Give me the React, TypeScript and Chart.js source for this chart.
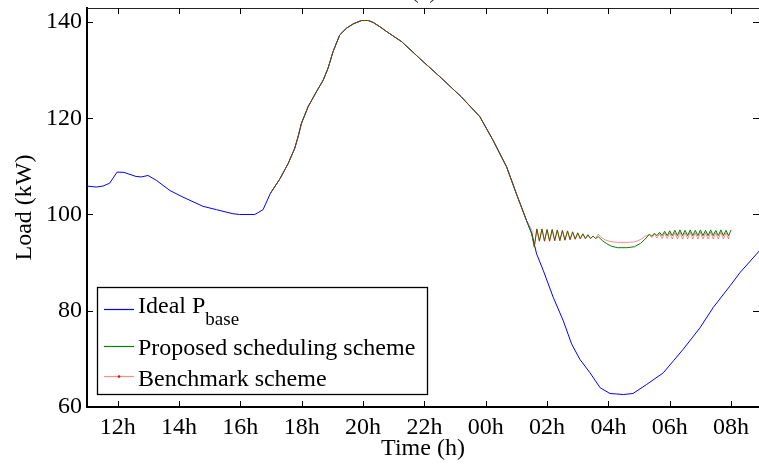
import React, { useEffect, useRef } from "react";
import { Chart, registerables } from "chart.js";

Chart.register(...registerables);

// ---- Data (hours since midnight of day 1; 24 = 00h next day) ----
const idealTime = [
  11.0, 11.3, 11.52, 11.74, 11.98, 12.2, 12.6, 12.77, 12.99, 13.26, 13.7, 14.13, 14.78, 15.22,
  15.76, 15.98, 16.47, 16.74, 16.98, 17.29, 17.56, 17.77, 17.88, 17.99, 18.21, 18.48, 18.7,
  18.86, 19.02, 19.24, 19.46, 19.68, 19.95, 20.17, 20.33, 20.55, 20.77, 21.26, 21.85, 22.56,
  23.21, 23.81, 24.24, 24.68, 25.0, 25.33, 25.5, 25.66, 25.88, 26.2, 26.53, 26.8, 27.07, 27.4,
  27.73, 28.05, 28.49, 28.8, 29.25, 29.79, 30.12, 30.44, 30.99, 31.42, 31.97, 32.3, 33.0,
];
const idealLoad = [
  105.9, 105.7, 105.9, 106.5, 108.8, 108.75, 107.9, 107.8, 108.1, 107.1, 105.0, 103.6, 101.7,
  101.0, 100.15, 100.0, 100.0, 101.0, 104.4, 107.4, 110.6, 113.7, 116.1, 118.9, 122.4, 125.5,
  127.9, 130.4, 133.8, 137.3, 138.7, 139.6, 140.3, 140.3, 139.9, 139.0, 138.0, 135.9, 132.4,
  128.3, 124.4, 120.3, 115.4, 109.9, 104.3, 98.75, 96.0, 91.8, 88.3, 82.8, 77.9, 73.1, 69.9,
  67.1, 64.0, 62.8, 62.6, 62.8, 64.7, 67.1, 69.6, 72.0, 76.5, 80.7, 85.2, 88.0, 93.0,
];

// Shared part of both schemes (they follow the ideal curve from ~17h to ~01h20)
const schemeStart = 16.9;
const schemeFollowEnd = 25.4;

const proposedTime = [
  25.5, 25.583, 25.667, 25.75, 25.833, 25.917, 26.0, 26.083, 26.167, 26.25, 26.333, 26.417,
  26.5, 26.583, 26.667, 26.75, 26.833, 26.917, 27.0, 27.083, 27.167, 27.25, 27.333, 27.417,
  27.5, 27.583, 27.667, 27.8, 27.95, 28.1, 28.3, 28.6, 28.85, 29.05, 29.2,
  29.333, 29.417, 29.5, 29.583, 29.667, 29.75, 29.833, 29.917, 30.0, 30.083, 30.167, 30.25,
  30.333, 30.417, 30.5, 30.583, 30.667, 30.75, 30.833, 30.917, 31.0, 31.083, 31.167, 31.25,
  31.333, 31.417, 31.5, 31.583, 31.667, 31.75, 31.833, 31.917, 32.0,
];
const proposedLoad = [
  96.0, 93.2, 97.0, 94.5, 97.0, 94.5, 96.9, 94.5, 96.9, 94.6, 96.8, 94.6,
  96.7, 94.7, 96.6, 94.8, 96.4, 94.9, 96.2, 95.0, 96.0, 95.0, 95.8, 95.0,
  95.5, 95.0, 95.4, 94.6, 93.9, 93.4, 93.1, 93.1, 93.3, 94.0, 94.9,
  95.9, 95.5, 96.1, 95.6, 96.3, 95.6, 96.5, 95.6, 96.6, 95.6, 96.7, 95.6,
  96.8, 95.6, 96.7, 95.6, 96.8, 95.6, 96.7, 95.6, 96.8, 95.6, 96.7, 95.6,
  96.8, 95.6, 96.7, 95.6, 96.8, 95.6, 96.7, 95.6, 96.8,
];

const benchmarkTime = [
  25.5, 25.583, 25.667, 25.75, 25.833, 25.917, 26.0, 26.083, 26.167, 26.25, 26.333, 26.417,
  26.5, 26.583, 26.667, 26.75, 26.833, 26.917, 27.0, 27.083, 27.167, 27.25, 27.333, 27.417,
  27.5, 27.583, 27.667, 27.75, 27.9, 28.05, 28.3, 28.6, 28.85, 29.05, 29.2,
  29.333, 29.417, 29.5, 29.583, 29.667, 29.75, 29.833, 29.917, 30.0, 30.083, 30.167, 30.25,
  30.333, 30.417, 30.5, 30.583, 30.667, 30.75, 30.833, 30.917, 31.0, 31.083, 31.167, 31.25,
  31.333, 31.417, 31.5, 31.583, 31.667, 31.75, 31.833, 31.917, 31.95,
];
const benchmarkLoad = [
  96.8, 93.5, 96.9, 94.4, 96.9, 94.4, 96.8, 94.4, 96.8, 94.5, 96.7, 94.5,
  96.6, 94.6, 96.5, 94.7, 96.3, 94.8, 96.1, 94.9, 95.9, 94.9, 95.7, 95.0,
  95.5, 95.0, 95.9, 95.3, 94.7, 94.4, 94.2, 94.2, 94.3, 94.8, 95.5,
  95.8, 95.2, 95.9, 95.1, 96.0, 95.0, 96.1, 95.0, 96.2, 94.9, 96.2, 94.9,
  96.3, 94.9, 96.2, 94.9, 96.3, 94.9, 96.2, 94.9, 96.3, 94.9, 96.2, 94.9,
  96.3, 94.9, 96.2, 94.9, 96.3, 94.9, 96.2, 94.9, 96.1,
];

const xTickValues = [12, 14, 16, 18, 20, 22, 24, 26, 28, 30, 32];
const xTickLabels = ["12h", "14h", "16h", "18h", "20h", "22h", "00h", "02h", "04h", "06h", "08h"];
const yTickValues = [60, 80, 100, 120, 140];

const legendLabels = ["Ideal P", "Proposed scheduling scheme", "Benchmark scheme"];
const legendSub = "base";

const FONT = '"Liberation Serif", "Times New Roman", serif';
const BLUE = "#0000ff";
const GREEN = "#008000";
const RED = "rgba(255,0,0,0.45)";

function pts(t: number[], v: number[]) {
  return t.map((x, i) => ({ x, y: v[i] }));
}

const commonPart = idealTime
  .map((x, i) => ({ x, y: idealLoad[i] }))
  .filter((p) => p.x >= schemeStart && p.x <= schemeFollowEnd);

const decorPlugin = {
  id: "decor",
  afterDraw(chart: any) {
    const { ctx, chartArea, scales } = chart;
    const { left, right, top, bottom } = chartArea;
    ctx.save();
    // top border
    ctx.strokeStyle = "#222";
    ctx.lineWidth = 1.2;
    ctx.beginPath();
    ctx.moveTo(left, top + 0.5);
    ctx.lineTo(right, top + 0.5);
    ctx.stroke();
    // inward ticks
    ctx.lineWidth = 1;
    ctx.strokeStyle = "#000";
    const tl = 6;
    scales.x.ticks.forEach((t: any) => {
      const px = Math.round(scales.x.getPixelForValue(t.value)) + 0.5;
      ctx.beginPath();
      ctx.moveTo(px, bottom);
      ctx.lineTo(px, bottom - tl);
      ctx.moveTo(px, top);
      ctx.lineTo(px, top + tl);
      ctx.stroke();
    });
    scales.y.ticks.forEach((t: any) => {
      const py = Math.round(scales.y.getPixelForValue(t.value)) + 0.5;
      ctx.beginPath();
      ctx.moveTo(left, py);
      ctx.lineTo(left + tl, py);
      ctx.moveTo(right, py);
      ctx.lineTo(right - tl, py);
      ctx.stroke();
    });

    // Legend
    const bx = left + 10;
    const by = 287;
    const bw = 330;
    const bh = 107;
    ctx.fillStyle = "#fff";
    ctx.fillRect(bx, by, bw, bh);
    ctx.strokeStyle = "#000";
    ctx.lineWidth = 1.3;
    ctx.strokeRect(bx + 0.5, by + 0.5, bw, bh);

    const lx0 = bx + 7;
    const lx1 = bx + 37;
    const tx = bx + 41;
    const rows = [
      { y: 309.5, base: 313, color: BLUE },
      { y: 346.5, base: 355, color: GREEN },
      { y: 376.5, base: 385.5, color: RED },
    ];
    rows.forEach((r, i) => {
      ctx.strokeStyle = r.color;
      ctx.lineWidth = 1.2;
      ctx.beginPath();
      ctx.moveTo(lx0, r.y);
      ctx.lineTo(lx1, r.y);
      ctx.stroke();
      ctx.fillStyle = "#000";
      ctx.font = `24px ${FONT}`;
      ctx.textBaseline = "alphabetic";
      ctx.textAlign = "left";
      ctx.fillText(legendLabels[i], tx, r.base);
      if (i === 0) {
        const w = ctx.measureText(legendLabels[i]).width;
        ctx.font = `19px ${FONT}`;
        ctx.fillText(legendSub, tx + w, r.base + 12);
      }
    });
    // red marker dot
    ctx.fillStyle = "#ff0000";
    ctx.beginPath();
    ctx.arc((lx0 + lx1) / 2, rows[2].y, 1.3, 0, Math.PI * 2);
    ctx.fill();

    // cut-off title
    ctx.fillStyle = "#333";
    ctx.font = `24px ${FONT}`;
    ctx.textAlign = "center";
    ctx.textBaseline = "alphabetic";
    ctx.fillText("(a)", (left + right) / 2 + 1, -2);
    ctx.restore();
  },
};

export default function App() {
  const ref = useRef<HTMLCanvasElement | null>(null);
  useEffect(() => {
    if (!ref.current) return;
    const font = { family: FONT, size: 24 };
    const chart = new Chart(ref.current, {
      type: "line",
      data: {
        datasets: [
          {
            label: "Ideal Pbase",
            data: pts(idealTime, idealLoad),
            borderColor: BLUE,
            borderWidth: 1,
            pointRadius: 0,
            order: 2,
          },
          {
            label: "Proposed scheduling scheme",
            data: [...commonPart, ...pts(proposedTime, proposedLoad)],
            borderColor: GREEN,
            borderWidth: 1,
            pointRadius: 0,
            order: 1,
          },
          {
            label: "Benchmark scheme",
            data: [...commonPart, ...pts(benchmarkTime, benchmarkLoad)],
            borderColor: RED,
            borderWidth: 1,
            pointRadius: 0,
            order: 0,
          },
        ],
      },
      options: {
        responsive: false,
        animation: false,
        layout: { padding: { top: 8, right: 0, left: 0, bottom: 0 } },
        plugins: {
          legend: { display: false },
          tooltip: { enabled: false },
          title: { display: false },
        },
        scales: {
          x: {
            type: "linear",
            min: 11,
            max: 32.91,
            afterBuildTicks: (s: any) => {
              s.ticks = xTickValues.map((v) => ({ value: v }));
            },
            afterFit: (s: any) => {
              s.height = 59;
              s.paddingLeft = 0;
              s.paddingRight = 0;
            },
            ticks: {
              callback: (_v: any, i: number) => xTickLabels[i],
              font,
              color: "#000",
              padding: 6,
              maxRotation: 0,
              autoSkip: false,
            },
            grid: { display: false, drawTicks: false },
            border: { display: true, color: "#000", width: 2 },
            title: {
              display: true,
              text: "Time (h)",
              font,
              color: "#000",
              padding: { top: 0, bottom: 3 },
            },
          },
          y: {
            type: "linear",
            min: 60,
            max: 142.9,
            afterBuildTicks: (s: any) => {
              s.ticks = yTickValues.map((v) => ({ value: v }));
            },
            afterFit: (s: any) => {
              s.width = 87;
              s.paddingTop = 0;
              s.paddingBottom = 0;
            },
            ticks: { font, color: "#000", padding: 5 },
            grid: { display: false, drawTicks: false },
            border: { display: true, color: "#000", width: 2 },
            title: {
              display: true,
              text: "Load (kW)",
              font,
              color: "#000",
              padding: { top: 10, bottom: 0 },
            },
          },
        },
      },
      plugins: [decorPlugin],
    });
    return () => chart.destroy();
  }, []);
  return (
    <div style={{ position: "absolute", left: 0, top: 0, width: 759, height: 466, background: "#fff" }}>
      <canvas ref={ref} width={759} height={466} style={{ display: "block" }} />
    </div>
  );
}
